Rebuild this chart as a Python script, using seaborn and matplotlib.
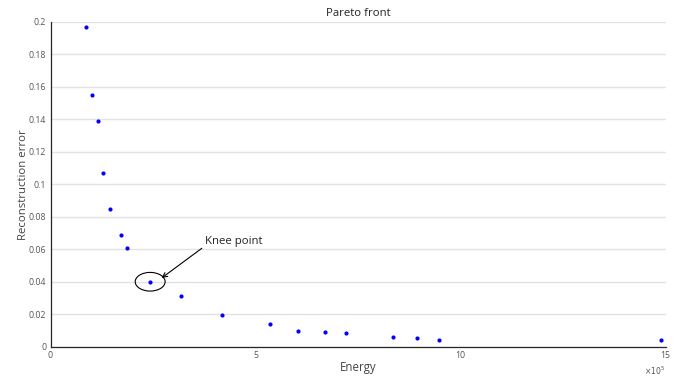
import matplotlib
matplotlib.use("Agg")
import matplotlib.pyplot as plt
from matplotlib.patches import Ellipse
import seaborn as sns
import pandas as pd

# Pareto front samples (energy in units of 1e5)
energy_e5 = [0.87, 1.00, 1.16, 1.27, 1.44, 1.72, 1.87, 2.43, 3.18, 4.18,
             5.35, 6.03, 6.70, 7.20, 8.36, 8.93, 9.48, 14.89]
recon_error = [0.197, 0.155, 0.139, 0.107, 0.085, 0.069, 0.061, 0.040, 0.031, 0.0195,
               0.0138, 0.0099, 0.0091, 0.0083, 0.0060, 0.0056, 0.0043, 0.0043]
knee_index = 7

x_ticks = [0, 5, 10, 15]
y_ticks = [0, 0.02, 0.04, 0.06, 0.08, 0.1, 0.12, 0.14, 0.16, 0.18, 0.2]
y_tick_labels = ["0", "0.02", "0.04", "0.06", "0.08", "0.1", "0.12", "0.14", "0.16", "0.18", "0.2"]

sns.set_style("white")
plt.rcParams["font.family"] = ["Open Sans", "DejaVu Sans"]

df = pd.DataFrame({"Energy": energy_e5, "Reconstruction error": recon_error})

fig = plt.figure(figsize=(6.8, 3.76), dpi=100)
ax = fig.add_axes([0.0743, 0.078, 0.9044, 0.8635])

sns.scatterplot(data=df, x="Energy", y="Reconstruction error", ax=ax,
                color="#0000ff", s=9, linewidth=0, zorder=3)

ax.set_xlim(0, 15)
ax.set_ylim(0, 0.2)
ax.set_xticks(x_ticks)
ax.set_xticklabels([str(t) for t in x_ticks])
ax.set_yticks(y_ticks)
ax.set_yticklabels(y_tick_labels)

ax.yaxis.grid(True, color="#e3e3e3", linewidth=1.0, zorder=0)
ax.xaxis.grid(False)
ax.set_axisbelow(True)

for side in ("top", "right"):
    ax.spines[side].set_visible(False)
for side in ("left", "bottom"):
    ax.spines[side].set_color("#262626")
    ax.spines[side].set_linewidth(0.9)

ax.tick_params(axis="both", direction="in", length=5, width=0.9, color="#262626",
               labelsize=6.3, labelcolor="#555555", pad=3)

ax.set_xlabel("Energy", fontsize=8.3, color="#444444", labelpad=1)
ax.set_ylabel("Reconstruction error", fontsize=8.2, color="#444444")
ax.yaxis.set_label_coords(-0.035, 0.5)
ax.set_title("Pareto front", fontsize=8.2, color="#222222", pad=4)

ax.text(1.0, -0.075, r"$\times 10^5$", transform=ax.transAxes, fontsize=5.5,
        color="#555555", ha="right", va="center")

# Highlight the knee point
kx, ky = energy_e5[knee_index], recon_error[knee_index]
ax.add_patch(Ellipse((kx, ky), width=0.73, height=0.0115, fill=False,
                     edgecolor="black", linewidth=0.8, zorder=4))
ax.annotate("Knee point", xy=(kx + 0.28, ky + 0.0023), xytext=(3.77, 0.0648),
            fontsize=8.2, color="#222222", ha="left", va="center",
            arrowprops=dict(arrowstyle="->", color="black", lw=0.8,
                            shrinkA=0, shrinkB=0, relpos=(0, 0.1)))

fig.savefig("out.png", dpi=100)
